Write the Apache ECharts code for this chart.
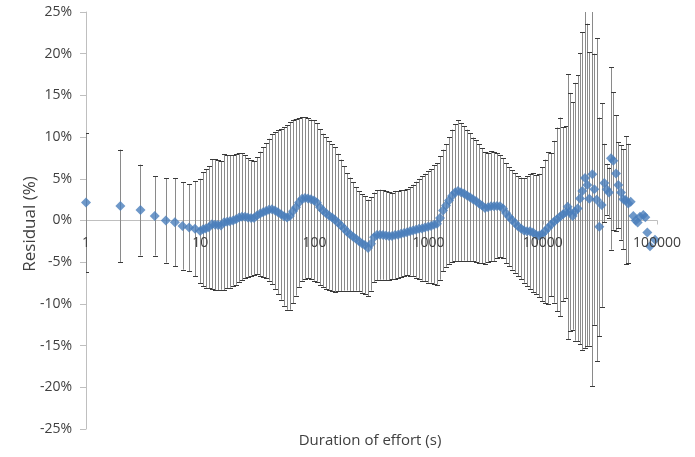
<!DOCTYPE html>
<html><head><meta charset="utf-8">
<script src="https://cdn.jsdelivr.net/npm/echarts@6/dist/echarts.min.js"></script>
<style>html,body{margin:0;padding:0;background:#fff}#c{width:695px;height:457px}</style>
</head><body><div id="c"></div>
<script>
// Duration of effort (s)
const durations = [
  1,2,3,4,5,6,7,8,9,10,
  10.6,11.2,11.9,12.7,13.5,14.3,15.2,16.2,17.2,18.2,
  19.4,20.6,21.9,23.2,24.7,26.2,27.9,29.6,31.4,33.4,
  35.5,37.7,40.0,42.5,45.2,48.0,51.0,54.2,57.6,61.1,
  64.9,69.0,73.3,77.9,82.7,87.9,93.4,99.2,105,112,
  119,126,134,143,151,161,171,182,193,205,
  218,231,246,261,277,295,313,333,353,375,
  399,424,450,478,508,540,573,609,647,687,
  730,776,824,876,930,988,1050,1115,1185,1259,
  1337,1421,1509,1603,1703,1809,1922,2042,2169,2304,
  2448,2601,2763,2935,3118,3313,3519,3739,3972,4220,
  4483,4762,5059,5375,5710,6066,6444,6846,7273,7726,
  8208,8720,9264,9840,10450,11110,11800,12540,13320,14150,
  15030,15970,
  16520,17310,18270,19140,20210,21180,22180,23420,24530,25540,
  27140,28250,29650,31240,32800,34560,36270,37990,39560,41430,
  43750,45830,48390,50690,53200,56070,58850,62020,65100,67760,
  71000,75860,78990,82220,86860,96050
];
// Residual (%)
const residuals = [
  2.15,1.75,1.25,0.55,0.0,-0.2,-0.65,-0.85,-1.0,-1.25,
  -1.05,-0.95,-0.8,-0.45,-0.5,-0.55,-0.6,-0.2,-0.15,-0.1,
  0,0.15,0.35,0.45,0.45,0.35,0.3,0.3,0.6,0.8,
  1.0,1.15,1.3,1.35,1.2,1.0,0.75,0.5,0.35,0.55,
  1.1,1.6,2.15,2.6,2.7,2.65,2.55,2.4,2.15,1.6,
  1.2,0.9,0.6,0.35,0.1,-0.25,-0.6,-0.95,-1.35,-1.65,
  -1.95,-2.2,-2.5,-2.75,-2.95,-3.3,-2.8,-2.0,-1.75,-1.7,
  -1.75,-1.8,-1.85,-1.85,-1.75,-1.7,-1.6,-1.5,-1.4,-1.3,
  -1.2,-1.1,-1.0,-0.95,-0.85,-0.75,-0.65,-0.5,-0.4,0.3,
  1.2,1.8,2.4,2.95,3.35,3.55,3.4,3.25,3.0,2.8,
  2.55,2.35,2.05,1.8,1.5,1.6,1.7,1.7,1.75,1.7,
  1.45,0.9,0.45,0.05,-0.3,-0.7,-0.95,-1.2,-1.3,-1.3,
  -1.45,-1.7,-1.8,-1.65,-1.3,-0.9,-0.5,-0.15,0.15,0.45,
  0.75,1.0,
  1.65,1.05,0.55,1.05,1.45,2.65,3.55,5.1,4.25,2.6,
  5.55,3.75,2.5,-0.75,1.85,4.5,3.75,3.35,7.45,7.15,
  5.65,4.25,3.35,2.55,2.45,2.05,2.25,0.55,0.0,-0.25,
  0.45,0.65,0.4,-1.45,-3.1,-2.3
];
// Error bar half-width (%), null = no error bar
const errors = [
  8.35,6.75,5.45,4.75,5.05,5.3,5.25,5.2,5.7,6.25,
  6.85,7.1,7.3,7.8,7.85,7.8,7.7,8.15,8.0,7.95,
  7.8,7.85,7.7,7.6,7.35,7.15,6.9,6.85,7.0,7.45,
  7.8,8.1,8.5,9.0,9.4,9.8,10.25,10.7,11.05,11.25,
  11.0,10.6,10.1,9.8,9.7,9.6,9.55,9.6,9.5,9.35,
  9.2,9.1,8.9,8.8,8.7,8.25,7.9,7.45,7.05,6.8,
  6.55,6.2,6.0,5.9,5.85,5.8,5.6,5.35,5.4,5.4,
  5.35,5.35,5.3,5.2,5.3,5.2,5.2,5.2,5.15,5.3,
  5.5,5.75,6.0,6.25,6.45,6.7,6.8,7.1,7.3,7.4,
  7.3,7.35,7.6,7.95,8.2,8.45,8.3,8.05,7.9,7.65,
  7.4,7.3,7.1,6.9,6.7,6.55,6.6,6.55,6.3,6.1,
  6.0,6.0,5.95,5.95,5.95,6.0,6.1,6.25,6.6,6.9,
  7.15,7.15,7.4,8.05,8.6,9.1,8.6,9.7,11.0,11.9,
  10.45,10.3,
  15.9,14.25,13.65,15.45,15.95,17.45,19.05,20.4,19.35,17.6,
  25.45,16.25,19.35,13.1,12.2,4.7,3.05,3.0,10.95,8.25,
  6.95,5.15,5.65,6.0,7.65,7.15,null,null,null,null,
  null,null,null,null,null,null
];
const xTickValues = [1,10,100,1000,10000,100000];
const yTickValues = [-25,-20,-15,-10,-5,0,5,10,15,20,25];
const xTitle = 'Duration of effort (s)';
const yTitle = 'Residual (%)';

if (durations.length !== residuals.length || durations.length !== errors.length) {
  throw new Error('length mismatch ' + durations.length + ' ' + residuals.length + ' ' + errors.length);
}

const pointData = durations.map((d, i) => [d, residuals[i]]);
const errData = durations.map((d, i) => [d, residuals[i], errors[i]]).filter(r => r[2] != null);

const FONT = 'Open Sans';
const TXT = '#404040';
const AX = '#bfbfbf';
const GRID_TOP = 12, GRID_BOTTOM = 28, H = 457;
const plotH = H - GRID_TOP - GRID_BOTTOM;
const yMin = yTickValues[0], yMax = yTickValues[yTickValues.length - 1];
// move the x axis (line, ticks, labels) up to the y = 0 level
const zeroOffset = -plotH * (0 - yMin) / (yMax - yMin);

const xBase = {
  type: 'log', logBase: 10,
  min: xTickValues[0], max: xTickValues[xTickValues.length - 1],
  position: 'bottom',
  offset: zeroOffset,
  minorTick: {show: false},
  splitLine: {show: false}
};

const chart = echarts.init(document.getElementById('c'), null, {renderer: 'canvas'});
chart.setOption({
  animation: false,
  backgroundColor: '#ffffff',
  textStyle: {fontFamily: FONT},
  grid: {left: 86, right: 38, top: GRID_TOP, bottom: GRID_BOTTOM, containLabel: false},
  xAxis: [
    Object.assign({}, xBase, {
      z: 0,
      axisLine: {show: true, onZero: false, lineStyle: {color: AX, width: 1}},
      axisTick: {show: true, length: 4, lineStyle: {color: AX}},
      axisLabel: {show: false}
    }),
    Object.assign({}, xBase, {
      z: 10,
      axisLine: {show: false, onZero: false},
      axisTick: {show: false},
      axisLabel: {color: TXT, fontSize: 14, fontFamily: FONT, margin: 16,
        formatter: v => String(Math.round(v))}
    })
  ],
  yAxis: {
    type: 'value',
    min: yMin, max: yMax, interval: 5,
    axisLine: {show: true, lineStyle: {color: AX, width: 1}},
    axisTick: {show: true, length: 6, lineStyle: {color: AX}},
    splitLine: {show: false},
    axisLabel: {color: TXT, fontSize: 14, fontFamily: FONT, margin: 14,
      formatter: v => v + '%'}
  },
  graphic: [
    {
      type: 'text', x: 370, y: 441,
      style: {text: xTitle, fill: TXT, font: '15px "Open Sans"', textAlign: 'center', textVerticalAlign: 'middle'}
    },
    {
      type: 'text', x: 30, y: 224, rotation: Math.PI / 2,
      style: {text: yTitle, fill: TXT, font: '17px "Open Sans"', textAlign: 'center', textVerticalAlign: 'middle'}
    }
  ],
  series: [
    {
      type: 'custom',
      xAxisIndex: 0,
      clip: true,
      z: 2,
      data: errData,
      renderItem: function (params, api) {
        const x = api.value(0), y = api.value(1), e = api.value(2);
        const pTop = api.coord([x, y + e]);
        const pBot = api.coord([x, y - e]);
        const cx = Math.round(pTop[0]) + 0.5;
        const w = 2.5;
        return {
          type: 'group',
          children: [
            {type: 'line', shape: {x1: cx, y1: pTop[1], x2: cx, y2: pBot[1]},
              style: {stroke: '#8a8a8a', lineWidth: 1}},
            {type: 'line', shape: {x1: cx - w, y1: Math.round(pTop[1]) + 0.5, x2: cx + w, y2: Math.round(pTop[1]) + 0.5},
              style: {stroke: '#3a3a3a', lineWidth: 1}},
            {type: 'line', shape: {x1: cx - w, y1: Math.round(pBot[1]) + 0.5, x2: cx + w, y2: Math.round(pBot[1]) + 0.5},
              style: {stroke: '#3a3a3a', lineWidth: 1}}
          ]
        };
      }
    },
    {
      type: 'scatter',
      xAxisIndex: 0,
      z: 3,
      data: pointData,
      symbol: 'diamond',
      symbolSize: 10,
      itemStyle: {color: '#4a7ebb'}
    }
  ]
});
</script>
</body></html>
